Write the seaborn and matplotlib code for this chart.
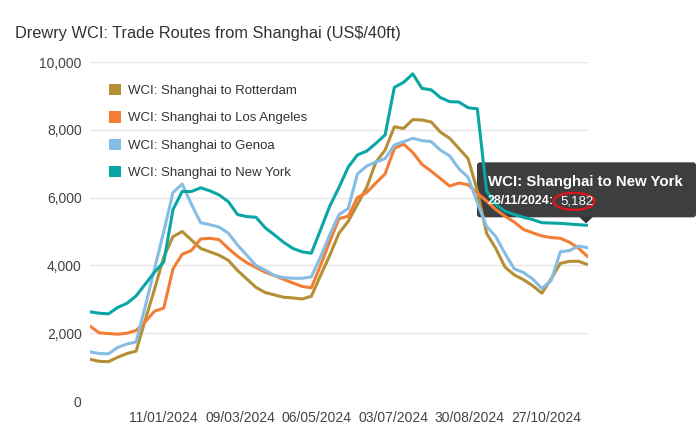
import pandas as pd
import matplotlib.pyplot as plt
import matplotlib.dates as mdates
import matplotlib.transforms as mtransforms
from matplotlib.patches import Patch, FancyBboxPatch, Polygon, Ellipse
import seaborn as sns

# weekly WCI readings, Thursdays 16/11/2023 .. 28/11/2024
dates = pd.date_range('2023-11-16', periods=55, freq='7D')

rotterdam = [1230, 1170, 1160, 1290, 1400, 1470, 2400, 3300, 4250, 4850,
             5000, 4750, 4500, 4400, 4300, 4150, 3850, 3600, 3350, 3200,
             3130, 3060, 3040, 3010, 3090, 3700, 4300, 4950, 5300, 5800,
             6300, 7050, 7400, 8090, 8040, 8300, 8290, 8230, 7930, 7750,
             7450, 7150, 6200, 4950, 4500, 3950, 3720, 3580, 3400, 3180,
             3600, 4060, 4120, 4120, 4020]
los_angeles = [2210, 2010, 1990, 1970, 2000, 2080, 2340, 2650, 2740, 3900,
               4330, 4440, 4780, 4800, 4760, 4500, 4270, 4080, 3940, 3800,
               3700, 3590, 3480, 3380, 3340, 4000, 4700, 5380, 5450, 6000,
               6150, 6430, 6700, 7450, 7580, 7330, 6980, 6780, 6560, 6340,
               6430, 6380, 6130, 5900, 5650, 5450, 5280, 5060, 4960, 4870,
               4820, 4800, 4680, 4500, 4250]
genoa = [1450, 1400, 1390, 1580, 1680, 1740, 2800, 3900, 5000, 6150,
         6400, 5800, 5260, 5200, 5130, 4950, 4600, 4300, 4000, 3860,
         3700, 3640, 3620, 3620, 3660, 4250, 4900, 5500, 5680, 6700,
         6930, 7050, 7150, 7550, 7650, 7750, 7680, 7650, 7400, 7230,
         6850, 6600, 5850, 5150, 4850, 4350, 3900, 3790, 3600, 3320,
         3550, 4400, 4440, 4570, 4520]
new_york = [2630, 2590, 2570, 2760, 2880, 3100, 3450, 3800, 4100, 5650,
            6180, 6180, 6290, 6200, 6080, 5880, 5500, 5440, 5420, 5110,
            4900, 4680, 4500, 4400, 4360, 5050, 5750, 6300, 6900, 7260,
            7370, 7600, 7850, 9250, 9400, 9650, 9220, 9180, 8950, 8830,
            8820, 8650, 8620, 6200, 5800, 5600, 5500, 5420, 5350, 5260,
            5250, 5240, 5220, 5200, 5182]

routes = ['WCI: Shanghai to Rotterdam', 'WCI: Shanghai to Los Angeles',
          'WCI: Shanghai to Genoa', 'WCI: Shanghai to New York']
colors = ['#B48F35', '#F47D36', '#86BDE5', '#0AA6A6']
tick_dates = pd.date_range('2024-01-11', periods=6, freq='58D')

df = pd.DataFrame({'date': list(dates) * 4,
                   'route': [r for r in routes for _ in dates],
                   'value': rotterdam + los_angeles + genoa + new_york})

sns.set_theme(style='white')
plt.rcParams['font.family'] = ['Liberation Sans', 'DejaVu Sans']

fig = plt.figure(figsize=(6.98, 4.36), dpi=100)
ax = fig.add_axes([90 / 698, 35 / 436, 498 / 698, 339 / 436])

sns.lineplot(data=df, x='date', y='value', hue='route', hue_order=routes,
             palette=colors, linewidth=2.2, legend=False, ax=ax,
             solid_joinstyle='round')

ax.set_xlim(dates[0], dates[-1])
ax.set_ylim(0, 10000)
ax.set_yticks(range(0, 10001, 2000))
ax.yaxis.set_major_formatter(plt.FuncFormatter(lambda v, p: f'{int(v):,}'))
ax.set_xticks(tick_dates)
ax.xaxis.set_major_formatter(mdates.DateFormatter('%d/%m/%Y'))
ax.set_xlabel('')
ax.set_ylabel('')
ax.grid(axis='y', color='#e6e6e6', linewidth=1)
ax.grid(axis='x', visible=False)
for s in ax.spines.values():
    s.set_visible(False)
ax.tick_params(axis='both', length=0, labelsize=10, labelcolor='#444444')
ax.tick_params(axis='y', pad=6)
ax.tick_params(axis='x', pad=7)

fig.text(15 / 698, 1 - 38 / 436, 'Drewry WCI: Trade Routes from Shanghai (US$/40ft)',
         fontsize=11.8, color='#333333')

handles = [Patch(facecolor=c, edgecolor='none') for c in colors]
ax.legend(handles, routes, loc='upper left', bbox_to_anchor=(0.024, 0.955),
          frameon=False, fontsize=9.5, labelcolor='#333333', handlelength=0.95,
          handleheight=0.95, handletextpad=0.5, labelspacing=1.07, borderpad=0)

# tooltip anchored at the last New York reading
px, py = ax.transData.transform((mdates.date2num(dates[-1]), new_york[-1]))
tip = mtransforms.Affine2D().translate(px, py)
ax.add_patch(FancyBboxPatch((-111, 8), 219, 55, boxstyle='round,pad=0,rounding_size=3',
                            fc='#333333', ec='none', alpha=0.95, transform=tip, clip_on=False))
ax.add_patch(Polygon([(-9, 8.5), (5, 8.5), (-2, 2)], closed=True, fc='#333333', ec='none',
                     transform=tip, clip_on=False))
ax.text(-100, 39, routes[3], transform=tip, color='white', fontsize=10.8,
        fontweight='bold', clip_on=False)
ax.text(-100, 21, f'{dates[-1]:%d/%m/%Y}:', transform=tip, color='white',
        fontsize=9, fontweight='bold', clip_on=False)
ax.text(-28, 21, f'{new_york[-1]:,}', transform=tip, color='white',
        fontsize=9.5, clip_on=False)
ax.add_patch(Ellipse((-14, 24), 41, 17, fill=False, ec='#e8141a', lw=1.6,
                     transform=tip, clip_on=False))

fig.savefig('out.png', dpi=100)
